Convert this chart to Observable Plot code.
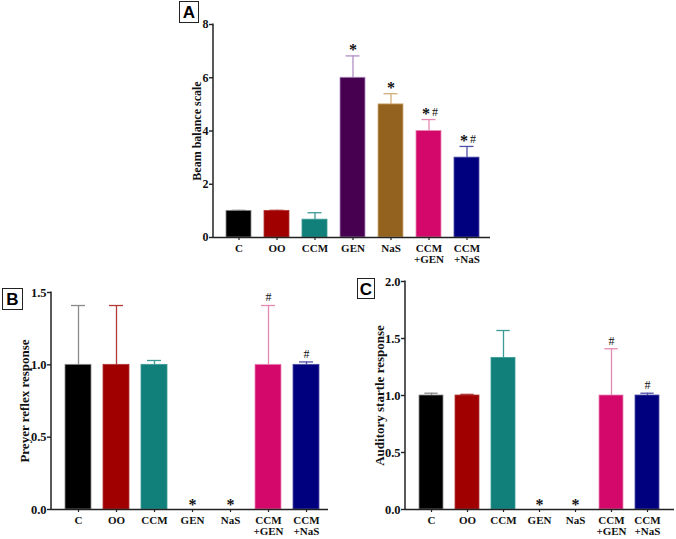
<!DOCTYPE html>
<html>
<head>
<meta charset="utf-8">
<script src="https://cdn.jsdelivr.net/npm/d3@7"></script>
<script src="https://cdn.jsdelivr.net/npm/@observablehq/plot@0.6"></script>
<style>
  html, body { margin: 0; padding: 0; background: #fff; }
  #wrap { position: relative; width: 676px; height: 539px; overflow: hidden; background: #fff; }
  .panel { position: absolute; }
  .tag { position: absolute; border: 1.2px solid #222; font: bold 17px "Liberation Sans", Arial, sans-serif; color: #000; display: flex; align-items: center; justify-content: center; box-sizing: border-box; background: #fff; padding-top: 2px; }
</style>
</head>
<body>
<div id="wrap"></div>
<script>
// ---- data ----
const categories = ["C", "OO", "CCM", "GEN", "NaS", "CCM\n+GEN", "CCM\n+NaS"];

const beamMean = [1.0, 1.0, 0.67, 6.0, 5.0, 4.0, 3.0];
const beamUpper = [1.02, 1.02, 0.93, 6.82, 5.40, 4.43, 3.42];
const beamStar = ["", "", "", "*", "*", "*", "*"];
const beamHash = ["", "", "", "", "", "#", "#"];

const preyerMean = [1.0, 1.0, 1.0, 0, 0, 1.0, 1.0];
const preyerUpper = [1.41, 1.41, 1.03, 0, 0, 1.41, 1.02];
const preyerStar = ["", "", "", "*", "*", "", ""];
const preyerHash = ["", "", "", "", "", "#", "#"];

const startleMean = [1.0, 1.0, 1.33, 0, 0, 1.0, 1.0];
const startleUpper = [1.02, 1.01, 1.57, 0, 0, 1.41, 1.02];
const startleStar = ["", "", "", "*", "*", "", ""];
const startleHash = ["", "", "", "", "", "#", "#"];

const barColors = ["#000000", "#a00000", "#11807b", "#46004f", "#94621f", "#d4086a", "#00007f"];
const errColors = ["#8a8a8a", "#b03a3a", "#3c9b95", "#b08fc4", "#cfae78", "#e588b2", "#5050a8"];

const font = '"Liberation Serif", "Times New Roman", serif';

function panel({mean, upper, star, hash, yDomain, yTicks, yFormat, label, labelOffset, labelSize, tickFont,
                left, top, width, height, mt, mb, ml, mr, pi, po, align, starBase}) {
  const rows = categories.map((c, i) => ({
    cat: c, mean: mean[i], upper: upper[i], star: star[i], hash: hash[i],
    fill: barColors[i], err: errColors[i]
  }));
  const step = (width - ml - mr) / (7 - pi + 2 * po);
  const bw = step * (1 - pi);
  const capInset = Math.max(0, (bw - 14) / 2);
  const withErr = rows.filter(d => d.upper > d.mean);
  const hasAnn = rows.filter(d => d.star || d.hash);
  const yAxisLine = (index, scales, values, dims) => {
    const g = d3.create("svg:g");
    g.append("line")
      .attr("x1", dims.marginLeft).attr("x2", dims.marginLeft)
      .attr("y1", dims.marginTop - 0.5).attr("y2", dims.height - dims.marginBottom + 0.7)
      .attr("stroke", "#222").attr("stroke-width", 1.5);
    return g.node();
  };
  const chart = Plot.plot({
    width, height, marginTop: mt, marginBottom: mb, marginLeft: ml, marginRight: mr,
    style: {fontFamily: font, fontWeight: "bold", fontSize: "11px", color: "#111", background: "#fff"},
    x: {domain: categories, paddingInner: pi, paddingOuter: po, align, label: null},
    y: {domain: yDomain, label: null},
    marks: [
      Plot.ruleX(withErr, {x: "cat", y1: "mean", y2: "upper", stroke: "err", strokeWidth: 1.3}),
      Plot.tickY(withErr, {x: "cat", y: "upper", stroke: "err", strokeWidth: 1.3, insetLeft: capInset, insetRight: capInset}),
      Plot.barY(rows.filter(d => d.mean > 0), {x: "cat", y: "mean", fill: "fill", stroke: "err", strokeWidth: 0.8}),
      Plot.text(hasAnn.filter(d => d.star && !d.hash), {x: "cat", y: d => starBase ? 0 : d.upper, text: "star", dy: starBase ? -5 : -6, fontSize: 16, fontFamily: font, fill: "#111"}),
      Plot.text(hasAnn.filter(d => d.star && d.hash), {x: "cat", y: "upper", text: "star", dx: -3, dy: -6, fontSize: 16, fontFamily: font, fill: "#111"}),
      Plot.text(hasAnn.filter(d => d.star && d.hash), {x: "cat", y: "upper", text: "hash", dx: 6, dy: -7, fontSize: 12, fontFamily: font, fontWeight: "normal", fill: "#111"}),
      Plot.text(hasAnn.filter(d => !d.star && d.hash), {x: "cat", y: "upper", text: "hash", dy: -8, fontSize: 12, fontFamily: font, fontWeight: "normal", fill: "#111"}),
      Plot.ruleY([0], {stroke: "#222", strokeWidth: 1.5}),
      yAxisLine,
      Plot.axisY({ticks: yTicks, tickFormat: yFormat, tickSize: 4, tickPadding: 1, stroke: "#222", strokeWidth: 1.4,
                  label: null, fontSize: tickFont, fontWeight: "bold", fill: "#111"}),
      Plot.text([label], {frameAnchor: "left", text: d => d, rotate: -90, dx: -labelOffset, lineAnchor: "middle", textAnchor: "middle",
                  fontSize: labelSize, fontWeight: "bold", fontFamily: font, fill: "#111"}),
      Plot.axisX({tickSize: 3, tickPadding: 4, stroke: "#222", strokeWidth: 1.2, fontSize: 11, fontWeight: "bold", fill: "#111", label: null})
    ]
  });
  chart.classList.add("panel");
  chart.style.left = left + "px";
  chart.style.top = top + "px";
  return chart;
}

const wrap = document.getElementById("wrap");

wrap.appendChild(panel({
  mean: beamMean, upper: beamUpper, star: beamStar, hash: beamHash,
  yDomain: [0, 8], yTicks: [0, 2, 4, 6, 8], yFormat: d3.format("d"),
  label: "Beam balance scale", labelOffset: 16, labelSize: 12, tickFont: 12,
  left: 150, top: 0, width: 350, height: 270, mt: 24, mb: 33, ml: 63, mr: 10,
  pi: 0.345, po: 0.30, align: 0.55, starBase: false
}));

wrap.appendChild(panel({
  mean: preyerMean, upper: preyerUpper, star: preyerStar, hash: preyerHash,
  yDomain: [0, 1.5], yTicks: [0, 0.5, 1.0, 1.5], yFormat: d3.format(".1f"),
  label: "Preyer reflex response", labelOffset: 27, labelSize: 13, tickFont: 12.5,
  left: 0, top: 270, width: 335, height: 269, mt: 22, mb: 30, ml: 51, mr: 7,
  pi: 0.323, po: 0.265, align: 0.62, starBase: true
}));

wrap.appendChild(panel({
  mean: startleMean, upper: startleUpper, star: startleStar, hash: startleHash,
  yDomain: [0, 2.0], yTicks: [0, 0.5, 1.0, 1.5, 2.0], yFormat: d3.format(".1f"),
  label: "Auditory startle response", labelOffset: 26, labelSize: 13, tickFont: 12.5,
  left: 340, top: 270, width: 336, height: 269, mt: 11, mb: 30, ml: 65, mr: 2,
  pi: 0.33, po: 0.316, align: 0.47, starBase: true
}));

function tag(t, x, y, w, h) {
  const d = document.createElement("div");
  d.className = "tag";
  d.textContent = t;
  Object.assign(d.style, {left: x + "px", top: y + "px", width: w + "px", height: h + "px"});
  wrap.appendChild(d);
}
tag("A", 179, 1, 20, 22);
tag("B", 2, 288, 21, 22);
tag("C", 357, 278, 18, 21);
</script>
</body>
</html>
